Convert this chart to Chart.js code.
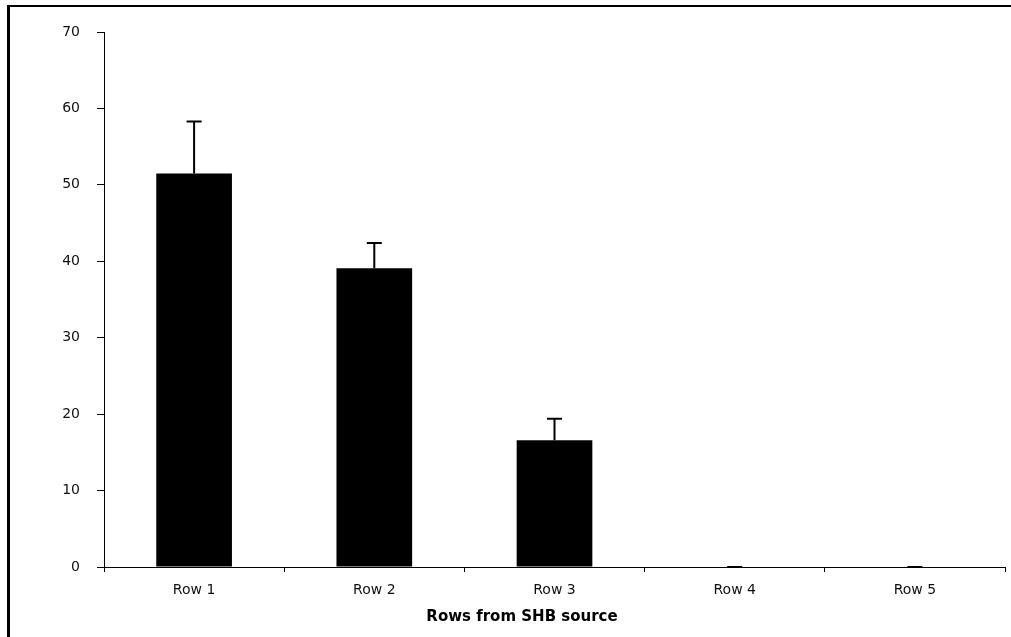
<!DOCTYPE html>
<html>
<head>
<meta charset="utf-8">
<script src="https://cdn.jsdelivr.net/npm/chart.js@4/dist/chart.umd.min.js"></script>
<style>
  html, body { margin: 0; padding: 0; background: #fff; }
  #wrap { position: relative; width: 1011px; height: 637px; overflow: hidden; }
  #frame { position: absolute; left: 7px; top: 5px; width: 1100px; height: 700px;
           border-left: 3px solid #000; border-top: 2px solid #000; box-sizing: border-box; }
  canvas { position: absolute; left: 0; top: 0; }
</style>
</head>
<body>
<div id="wrap">
  <div id="frame"></div>
  <canvas id="c" width="1011" height="637"></canvas>
</div>
<script>
const categories = ['Row 1', 'Row 2', 'Row 3', 'Row 4', 'Row 5'];
const means = [51.5, 39.1, 16.6, 0, 0];
const errors = [6.8, 3.3, 2.8, 0, 0];
const yTicks = [0, 10, 20, 30, 40, 50, 60, 70];

const FONT = "'DejaVu Sans', Verdana, sans-serif";

// Upward-only error bars with a short cap, drawn through the scales
const errorBars = {
  id: 'errorBars',
  afterDatasetsDraw(chart) {
    const ctx = chart.ctx;
    const meta = chart.getDatasetMeta(0);
    const y = chart.scales.y;
    ctx.save();
    ctx.strokeStyle = '#000';
    ctx.lineWidth = 2;
    meta.data.forEach((bar, i) => {
      const x = bar.x;
      const yBase = y.getPixelForValue(means[i]);
      const yTop = y.getPixelForValue(means[i] + errors[i]);
      ctx.beginPath();
      ctx.moveTo(x, yBase);
      ctx.lineTo(x, yTop);
      ctx.moveTo(x - 7.5, yTop);
      ctx.lineTo(x + 7.5, yTop);
      ctx.stroke();
    });
    ctx.restore();
  }
};

new Chart(document.getElementById('c'), {
  type: 'bar',
  data: {
    labels: categories,
    datasets: [{
      data: means,
      backgroundColor: '#000',
      borderWidth: 0,
      barPercentage: 0.42,
      categoryPercentage: 1
    }]
  },
  options: {
    responsive: false,
    animation: false,
    layout: { padding: { left: 39, right: 6, top: 32, bottom: 0 } },
    plugins: {
      legend: { display: false },
      tooltip: { enabled: false },
      title: {
        display: true,
        position: 'bottom',
        text: 'Rows from SHB source',
        color: '#000',
        font: { family: FONT, size: 15, weight: 'bold', lineHeight: 1.2 },
        padding: { top: 4, bottom: 11 }
      }
    },
    scales: {
      y: {
        min: 0, max: 70,
        afterBuildTicks(scale) { scale.ticks = yTicks.map(v => ({ value: v })); },
        afterFit(scale) { scale.width = 65; },
        border: { display: true, color: '#000', width: 1 },
        grid: { drawOnChartArea: false, drawTicks: true, tickLength: 7, color: '#000' },
        ticks: { padding: 17, color: '#111', font: { family: FONT, size: 14 } }
      },
      x: {
        afterFit(scale) { scale.height = 37; },
        border: { display: true, color: '#000', width: 1 },
        grid: { drawOnChartArea: false, drawTicks: true, tickLength: 5, color: '#000', offset: true },
        ticks: { padding: 10, color: '#111', font: { family: FONT, size: 14 } }
      }
    }
  },
  plugins: [errorBars]
});
</script>
</body>
</html>
